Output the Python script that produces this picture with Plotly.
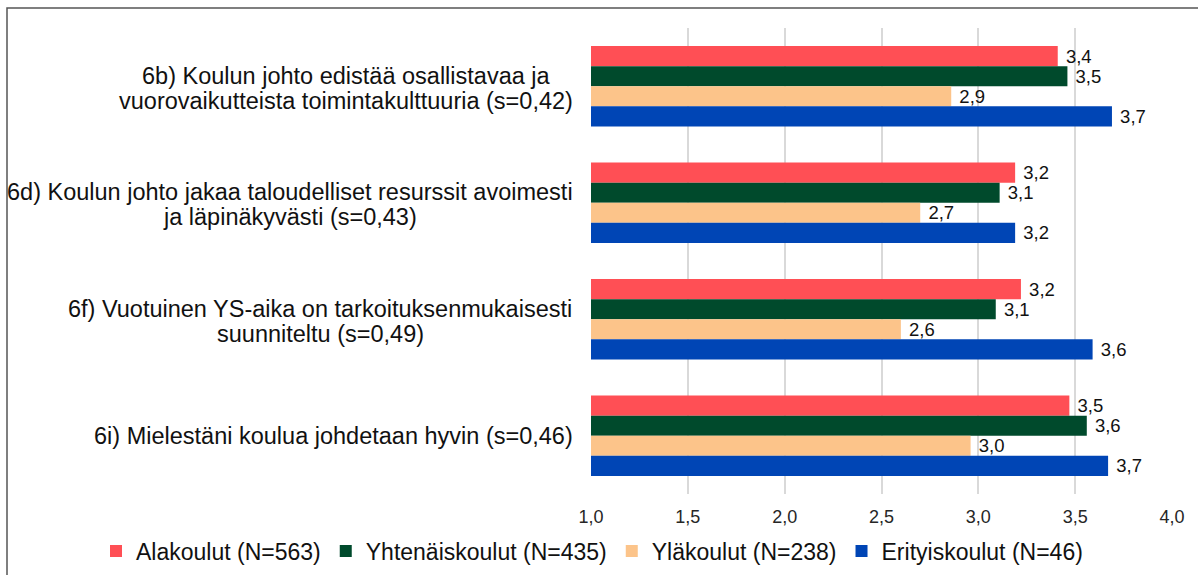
import plotly.graph_objects as go

categories = ["6b", "6d", "6f", "6i"]
category_labels = [
    "6b) Koulun johto edistää osallistavaa ja<br>vuorovaikutteista toimintakulttuuria (s=0,42)",
    "6d) Koulun johto jakaa taloudelliset resurssit avoimesti<br>ja läpinäkyvästi (s=0,43)",
    "6f) Vuotuinen YS-aika on tarkoituksenmukaisesti<br>suunniteltu (s=0,49)",
    "6i) Mielestäni koulua johdetaan hyvin (s=0,46)",
]
series_names = ["Alakoulut (N=563)", "Yhtenäiskoulut (N=435)", "Yläkoulut (N=238)", "Erityiskoulut (N=46)"]
alakoulut = [3.41, 3.19, 3.22, 3.47]
yhtenaiskoulut = [3.46, 3.11, 3.09, 3.56]
ylakoulut = [2.86, 2.70, 2.60, 2.96]
erityiskoulut = [3.69, 3.19, 3.59, 3.67]
colors = ["#FF4F55", "#004A2C", "#FCC48A", "#0045B5"]
x_ticks = [1.0, 1.5, 2.0, 2.5, 3.0, 3.5, 4.0]

W, H = 1198, 575
L, R, T, B = 591, 26, 28, 81
pw, ph = W - L - R, H - T - B
FONT = "Liberation Sans"

# Arial / Liberation Sans advance widths (per 1000 em) for text centring
AW = {" ": 278, "(": 333, ")": 333, ",": 278, ".": 278, "=": 584, "-": 333,
      "K": 667, "Y": 667, "S": 667, "V": 667, "M": 833, "A": 667, "N": 722,
      "a": 556, "b": 556, "c": 500, "d": 556, "e": 556, "f": 278, "g": 556, "h": 556,
      "i": 222, "j": 222, "k": 500, "l": 222, "m": 833, "n": 556, "o": 556, "p": 556,
      "q": 556, "r": 333, "s": 500, "t": 278, "u": 556, "v": 500, "w": 722, "x": 500,
      "y": 500, "z": 500, "ä": 556, "ö": 556}


def text_w(s, size):
    return sum(AW.get(c, 556) for c in s) * size / 1000.0


fig = go.Figure()
for name, vals, col in zip(series_names, [alakoulut, yhtenaiskoulut, ylakoulut, erityiskoulut], colors):
    fig.add_trace(go.Bar(
        y=categories, x=vals, orientation="h", name=name,
        marker=dict(color=col, line=dict(width=0)),
        text=["\u00a0" + f"{v:.1f}".replace(".", ",") for v in vals],
        textposition="outside", cliponaxis=False, constraintext="none",
        textfont=dict(size=18.5, color="#111", family=FONT),
    ))

label_size = 23.5
line_h = 25
right_px = 573
for cat, lab in zip(categories, category_labels):
    lines = lab.split("<br>")
    block_w = max(text_w(s, label_size) for s in lines)
    cx = right_px - block_w / 2
    n = len(lines)
    for i, s in enumerate(lines):
        shift = ((n - 1) / 2 - i) * line_h - (2 if n > 1 else 0)
        fig.add_annotation(
            x=(cx - L) / pw, xref="paper", y=cat, yref="y", yshift=shift,
            text=s, showarrow=False, xanchor="center", yanchor="middle",
            font=dict(size=label_size, color="#111", family=FONT),
        )

fig.add_shape(type="rect", xref="paper", yref="paper",
              x0=(7 - L) / pw, x1=(1210 - L) / pw,
              y0=-(595 - (H - B)) / ph, y1=1 + (T - 8) / ph,
              line=dict(color="#555", width=1.5))

fig.update_layout(
    width=W, height=H, margin=dict(l=L, r=R, t=T, b=B, autoexpand=False),
    paper_bgcolor="white", plot_bgcolor="white",
    barmode="group", bargap=0.31, bargroupgap=0,
    separators=",.",
    font=dict(family=FONT, color="#111"),
    xaxis=dict(range=[1.0, 4.0], tickvals=x_ticks, tickformat=".1f",
               showgrid=True, gridcolor="#D9D9D9", gridwidth=1.5, zeroline=False,
               ticks="outside", ticklen=6, tickcolor="white",
               tickfont=dict(size=18, color="#262626"), showline=False),
    yaxis=dict(autorange="reversed", showticklabels=False, showgrid=False, zeroline=False),
    legend=dict(orientation="h", x=(96 - L) / pw, xref="paper", xanchor="left",
                y=-(551 - (H - B)) / ph, yref="paper", yanchor="middle",
                font=dict(size=23, color="#111", family=FONT),
                itemwidth=30, traceorder="normal", bgcolor="rgba(0,0,0,0)"),
    showlegend=True,
)

fig.write_html("out.html", config={"displayModeBar": False},
               post_script="document.body.style.margin='0';document.body.style.overflow='hidden';")
